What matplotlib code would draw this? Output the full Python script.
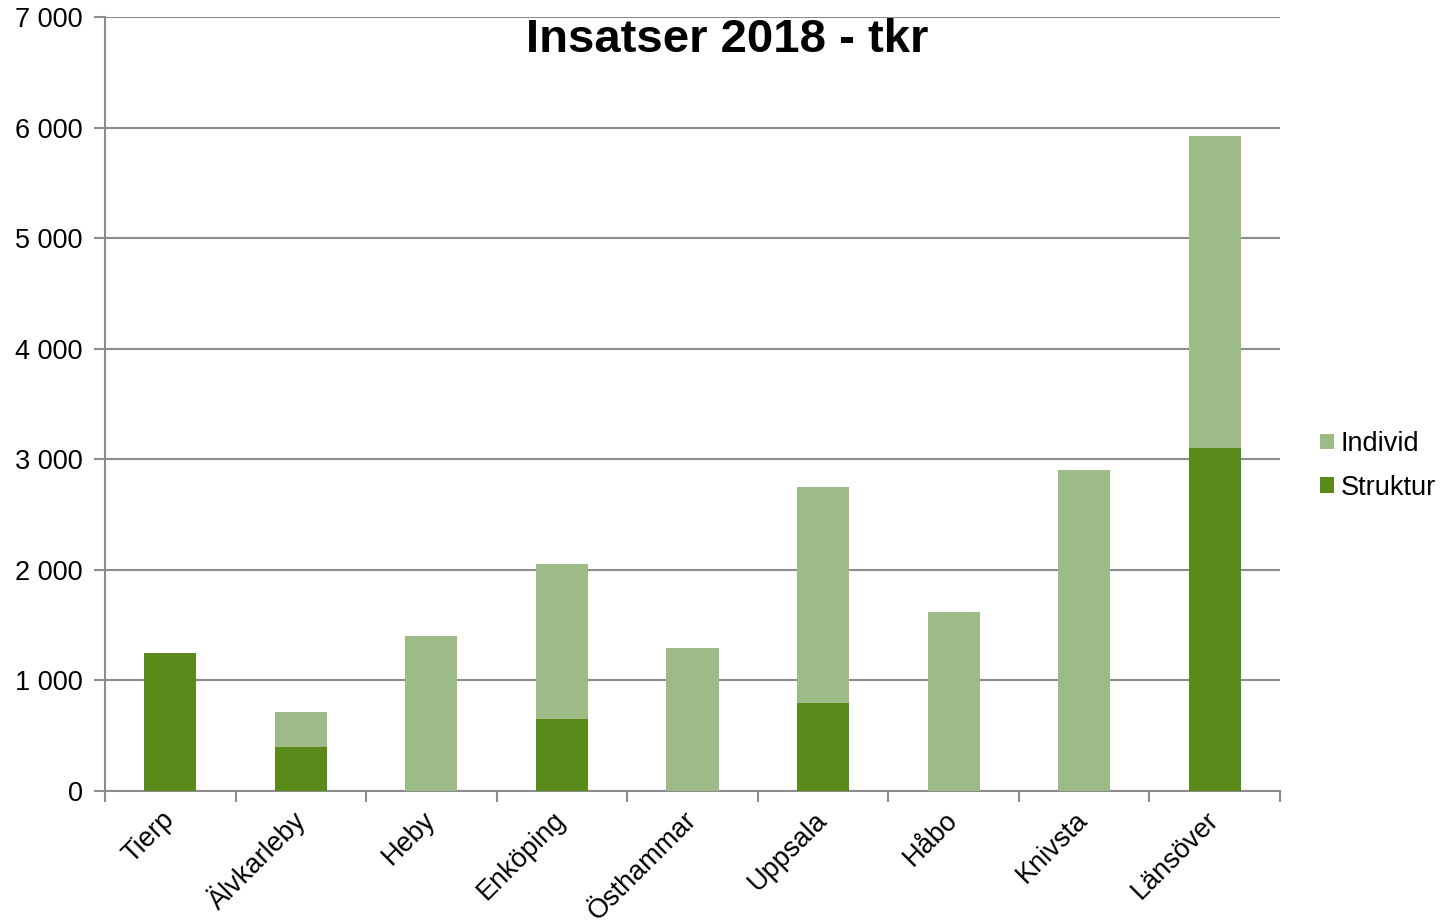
import matplotlib
matplotlib.use("Agg")
import matplotlib.pyplot as plt
import numpy as np
from matplotlib.ticker import FuncFormatter, FixedLocator

plt.rcParams['font.family'] = ['Liberation Sans', 'DejaVu Sans']

kommuner = ["Tierp", "Älvkarleby", "Heby", "Enköping", "Östhammar",
            "Uppsala", "Håbo", "Knivsta", "Länsöver"]
struktur = [1250, 400, 0, 650, 0, 800, 0, 0, 3100]
individ = [0, 310, 1400, 1400, 1290, 1950, 1620, 2900, 2820]

c_struktur = "#5a8a1a"
c_individ = "#9dbb87"
grid_c = "#8c8c8c"

fig = plt.figure(figsize=(14.41, 9.22), dpi=100)
ax = fig.add_axes([105/1441, 1 - 791/922, 1175/1441, 774/922])

x = np.arange(len(kommuner))
ax.bar(x, struktur, width=0.4, color=c_struktur, label="Struktur", zorder=3)
ax.bar(x, individ, width=0.4, bottom=struktur, color=c_individ, label="Individ", zorder=3)

ax.set_xlim(-0.5, len(kommuner) - 0.5)
ax.set_ylim(0, 7000)
ax.set_yticks(np.arange(0, 7001, 1000))
ax.yaxis.set_major_formatter(FuncFormatter(lambda v, p: f"{int(v):,}".replace(",", " ")))
ax.grid(axis="y", color=grid_c, linewidth=1.5, zorder=0)

ax.set_xticks(x)
ax.set_xticklabels(kommuner, rotation=45, ha="right", va="center",
                   rotation_mode="anchor", fontsize=19.5)
ax.tick_params(axis="x", which="major", length=0, pad=18)
ax.xaxis.set_minor_locator(FixedLocator(np.arange(-0.5, len(kommuner), 1)))
ax.tick_params(axis="x", which="minor", length=8, width=1.5, color=grid_c)
ax.tick_params(axis="y", length=8, width=1.5, color=grid_c, labelsize=19.5, pad=8)

for s in ["top", "right"]:
    ax.spines[s].set_visible(False)
for s in ["left", "bottom"]:
    ax.spines[s].set_color(grid_c)
    ax.spines[s].set_linewidth(1.5)

fig.text(727/1441, 1 - 40/922, "Insatser 2018 - tkr", ha="center", va="center",
         fontsize=34, fontweight="bold")

handles, labels = ax.get_legend_handles_labels()
fig.legend(handles[::-1], labels[::-1], loc="center left",
           bbox_to_anchor=(1320/1441, 1 - 466/922), frameon=False, fontsize=19.5,
           borderpad=0, borderaxespad=0,
           handlelength=0.5, handleheight=0.5, handletextpad=0.25, labelspacing=0.65)

fig.savefig("out.png", dpi=100)
